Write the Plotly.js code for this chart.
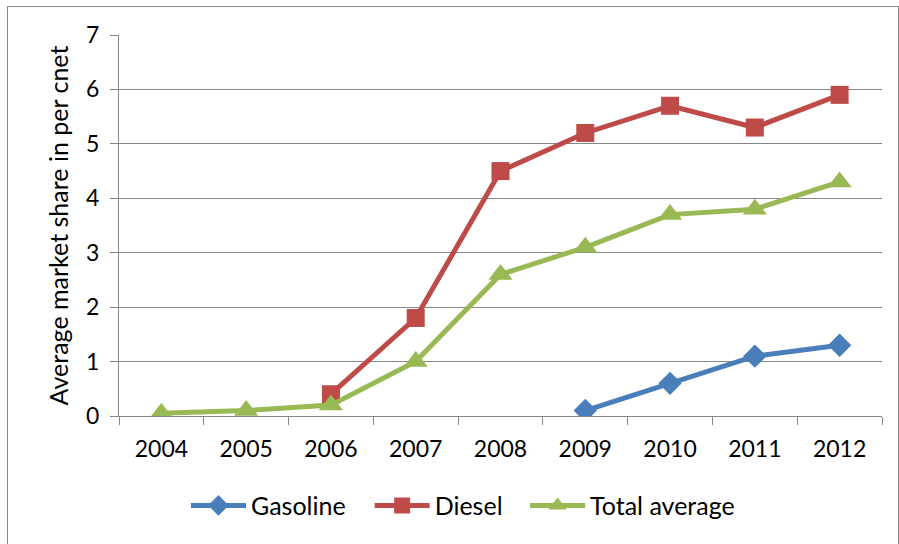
<!DOCTYPE html>
<html>
<head>
<meta charset="utf-8">
<script src="https://cdn.plot.ly/plotly-3.0.1.min.js"></script>
<style>
html,body{margin:0;padding:0;background:#fff;}
#chart{width:899px;height:544px;}
#frame{position:absolute;left:7px;top:6px;width:890px;height:600px;border:1px solid #888;border-bottom:none;pointer-events:none;}
</style>
</head>
<body>
<div id="chart"></div>
<div id="frame"></div>
<script>
const years = ['2004','2005','2006','2007','2008','2009','2010','2011','2012'];
const gasoline = [null,null,null,null,null,0.1,0.6,1.1,1.3];
const diesel = [null,null,0.4,1.8,4.5,5.2,5.7,5.3,5.9];
const totalAverage = [0.05,0.1,0.2,1.0,2.6,3.1,3.7,3.8,4.3];
const yTicks = [0,1,2,3,4,5,6,7];

const font = {family:'Lato, "Open Sans", sans-serif', size:23, color:'#000'};
const legendFont = {family:'Lato, "Open Sans", sans-serif', size:25, color:'#000'};
const traces = [
  {x:years, y:gasoline, name:'Gasoline', mode:'lines+markers', line:{color:'#4a7ebb',width:5},
   marker:{symbol:'diamond',size:18,color:'#4a7ebb'}, legend:'legend'},
  {x:years, y:diesel, name:'Diesel', mode:'lines+markers', line:{color:'#be4b48',width:5},
   marker:{symbol:'square',size:18,color:'#be4b48'}, legend:'legend2'},
  {x:years, y:totalAverage, name:'Total average', mode:'lines+markers', line:{color:'#98b954',width:5},
   marker:{symbol:'triangle-up',size:21,color:'#98b954'}, legend:'legend3'}
];
function leg(x){
  return {orientation:'h', x:x, xanchor:'left', y:-0.175, yanchor:'top', font:legendFont, itemwidth:55, bgcolor:'rgba(0,0,0,0)'};
}
const layout = {
  width:899, height:544,
  margin:{l:119, r:17, t:35, b:128},
  paper_bgcolor:'#fff', plot_bgcolor:'#fff',
  font:font,
  showlegend:true,
  legend:leg(0.0878),
  legend2:leg(0.3285),
  legend3:leg(0.5322),
  xaxis:{type:'category', range:[-0.5,8.5], tickson:'boundaries', ticks:'outside', ticklen:8, tickcolor:'#868686',
    showline:true, linecolor:'#868686', linewidth:1, showgrid:false, tickfont:font, ticklabelstandoff:12},
  yaxis:{range:[0,7], tickvals:yTicks, ticks:'outside', ticklen:8, tickcolor:'#868686',
    showline:true, linecolor:'#868686', linewidth:1, gridcolor:'#868686', gridwidth:1,
    zeroline:false, tickfont:font, ticklabelstandoff:6,
    title:{text:'Average market share in per cnet', font:legendFont, standoff:10}}
};
Plotly.newPlot('chart', traces, layout, {displayModeBar:false, staticPlot:true});
</script>
</body>
</html>
